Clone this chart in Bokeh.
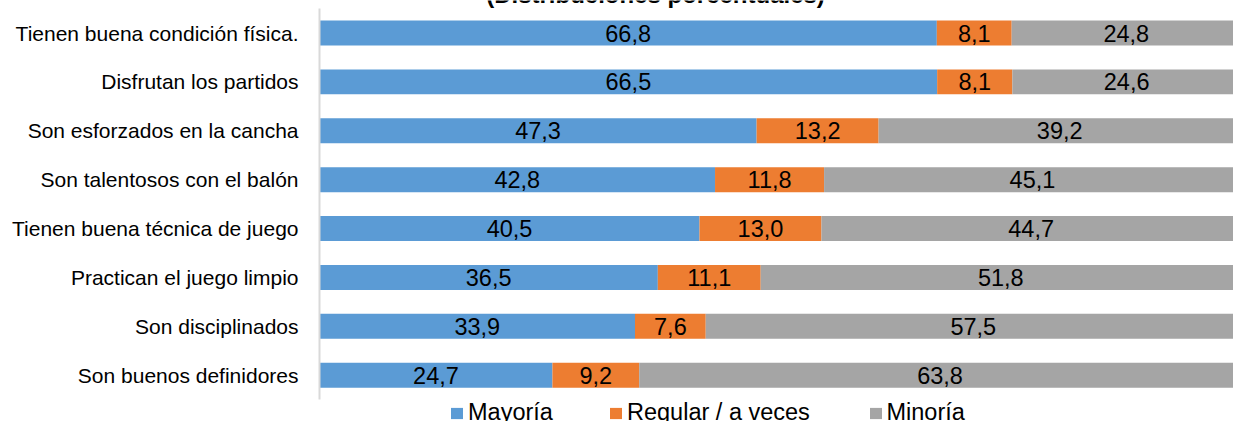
from bokeh.plotting import figure
from bokeh.models import ColumnDataSource, Range1d, Legend, LegendItem, Label, FixedTicker
from bokeh.core.properties import value
from bokeh.embed import file_html
from bokeh.resources import INLINE

categories = [
    "Tienen buena condición física.",
    "Disfrutan los partidos",
    "Son esforzados en la cancha",
    "Son talentosos con el balón",
    "Tienen buena técnica de juego",
    "Practican el juego limpio",
    "Son disciplinados",
    "Son buenos definidores",
]
mayoria = [66.8, 66.5, 47.3, 42.8, 40.5, 36.5, 33.9, 24.7]
regular = [8.1, 8.1, 13.2, 11.8, 13.0, 11.1, 7.6, 9.2]
minoria = [24.8, 24.6, 39.2, 45.1, 44.7, 51.8, 57.5, 63.8]
series_names = ["Mayoría", "Regular / a veces", "Minoría"]
colors = ["#5B9BD5", "#ED7D31", "#A5A5A5"]
title_text = "(Distribuciones porcentuales)"

FONT = "Liberation Sans"
n = len(categories)
ypos = [n - 1 - i for i in range(n)]  # first category on top

# 100% stacked: normalise each row
series = [mayoria, regular, minoria]
keys = ["m", "r", "n"]
totals = [sum(vals) for vals in zip(*series)]
data = {"y": ypos}
for k, vals in zip(keys, series):
    data[k] = [v / t * 100 for v, t in zip(vals, totals)]
source = ColumnDataSource(data)

p = figure(
    width=1233, height=421,
    y_range=Range1d(-0.947, n - 1 + 0.665),
    x_range=Range1d(0, 99.2),
    output_backend="svg", toolbar_location=None,
    min_border_left=319, min_border_right=0, min_border_top=0, min_border_bottom=0,
)
p.outline_line_color = None
p.xgrid.visible = False
p.ygrid.visible = False
p.xaxis.visible = False
p.background_fill_color = "white"
p.border_fill_color = "white"

renderers = p.hbar_stack(keys, y="y", height=0.51, color=colors, source=source, line_color=None)

# value labels
lab_x, lab_y, lab_t = [], [], []
for i in range(n):
    left = 0.0
    for k, vals in zip(keys, series):
        w = data[k][i]
        lab_x.append(left + w / 2)
        lab_y.append(ypos[i])
        lab_t.append(f"{vals[i]:.1f}".replace(".", ","))
        left += w
p.text(x=lab_x, y=lab_y, text=lab_t, text_align="center", text_baseline="middle",
       text_font=value(FONT), text_font_size="23.5px", text_color="black")

ax = p.yaxis[0]
ax.ticker = FixedTicker(ticks=ypos)
ax.major_label_overrides = {y: c for y, c in zip(ypos, categories)}
ax.bounds = (-0.5, n - 0.5)
ax.axis_line_color = "#D9D9D9"
ax.axis_line_width = 2
ax.major_tick_line_color = None
ax.minor_tick_line_color = None
ax.major_tick_out = 0
ax.major_tick_in = 0
ax.major_label_standoff = 21
ax.major_label_text_font = FONT
ax.major_label_text_font_size = "21px"
ax.major_label_text_color = "black"

legend_x = [130, 289, 548.5]
for r, name, lx in zip(renderers, series_names, legend_x):
    lg = Legend(items=[LegendItem(label=name, renderers=[r])], location=(lx, -5),
                orientation="horizontal", padding=0, margin=0, spacing=0,
                glyph_width=15, glyph_height=14, label_standoff=4,
                label_text_font=FONT, label_text_font_size="23.5px", label_text_color="black",
                border_line_color=None, background_fill_alpha=0)
    p.add_layout(lg, "center")

p.add_layout(Label(x=336, y=427.5, x_units="screen", y_units="screen", text=title_text,
                   text_align="center", text_baseline="alphabetic",
                   text_font=FONT, text_font_size="24px", text_font_style="bold",
                   text_color="black"))

open("out.html", "w").write(file_html(p, INLINE))
